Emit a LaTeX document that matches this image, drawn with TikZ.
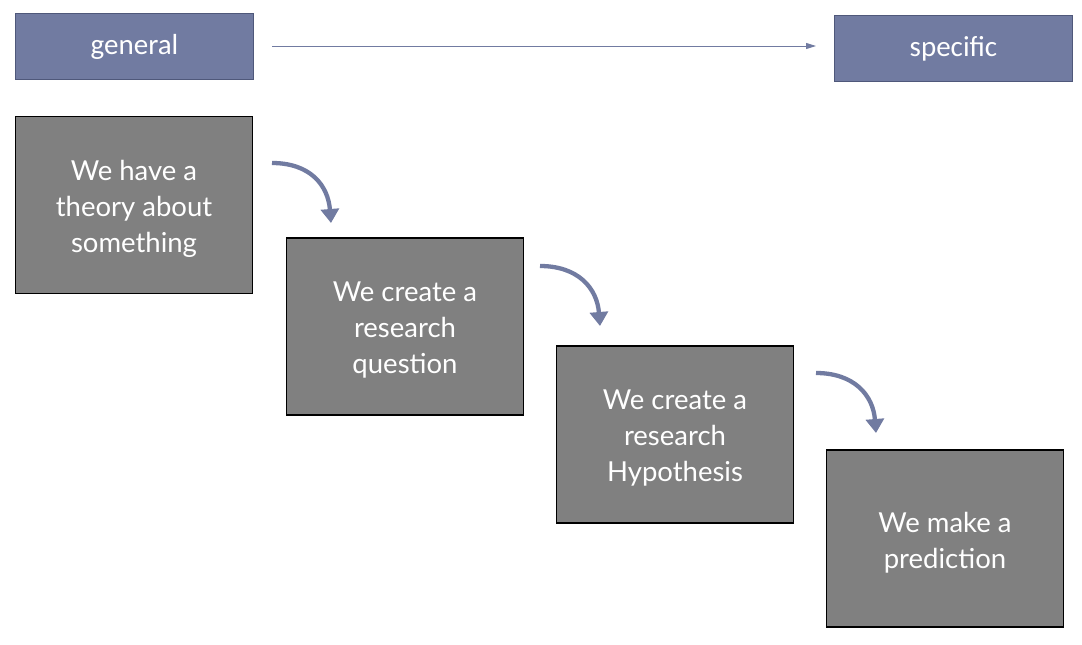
\documentclass[tikz,border=0pt]{standalone}
\usepackage{fontspec}
\setmainfont{Lato}
\newfontfamily\topfont{Carlito}
\usetikzlibrary{arrows.meta}
\definecolor{slate}{HTML}{717BA1}
\definecolor{slatedark}{HTML}{4F587A}
\definecolor{boxgrey}{HTML}{808080}
\begin{document}
\begin{tikzpicture}[x=1pt,y=-1pt,
  topbox/.style={draw=slatedark,line width=1.5pt,fill=slate,text=white,minimum width=238pt,minimum height=66pt,inner sep=0pt,font=\topfont\fontsize{29}{34}\selectfont},
  stepbox/.style={draw=black,line width=1.8pt,fill=boxgrey,minimum width=237pt,minimum height=177pt,inner sep=0pt},
  steptext/.style={text=white,align=center,inner sep=0pt,yshift=-4pt,font=\fontsize{27.5}{36}\selectfont},
  curvearrow/.style={draw=slate,line width=4.3pt,-{Triangle[width=18pt,length=14pt]}},
  thinarrow/.style={draw=slate,line width=0.9pt,-{Triangle[width=6pt,length=10pt]}}]
\useasboundingbox (0,0) rectangle (1082,645);
\node[topbox] (gen) at (134.5,46.5) {general};
\node[topbox] (spec) at (953.5,48.5) {specific};
\coordinate (a0) at (272,46);
\coordinate (a1) at (816,46);
\draw[thinarrow] (a0) -- (a1);
\node[stepbox,label={[steptext]center:We have a\\theory about\\something}] (b1) at (134,205) {};
\node[stepbox,label={[steptext]center:We create a\\research\\question}] (b2) at (405,326.5) {};
\node[stepbox,label={[steptext]center:We create a\\research\\Hypothesis}] (b3) at (675,434.5) {};
\node[stepbox,label={[steptext]center:We make a\\prediction}] (b4) at (945,538.5) {};
\coordinate (c1s) at (272,163); \coordinate (c1e) at (331,223);
\coordinate (c2s) at (540,266); \coordinate (c2e) at (600,326);
\coordinate (c3s) at (816,373); \coordinate (c3e) at (876,433);
\draw[curvearrow] (c1s) .. controls +(38,0) and +(-3,-38) .. (c1e);
\draw[curvearrow] (c2s) .. controls +(38,0) and +(-3,-38) .. (c2e);
\draw[curvearrow] (c3s) .. controls +(38,0) and +(-3,-38) .. (c3e);
\end{tikzpicture}
\end{document}
